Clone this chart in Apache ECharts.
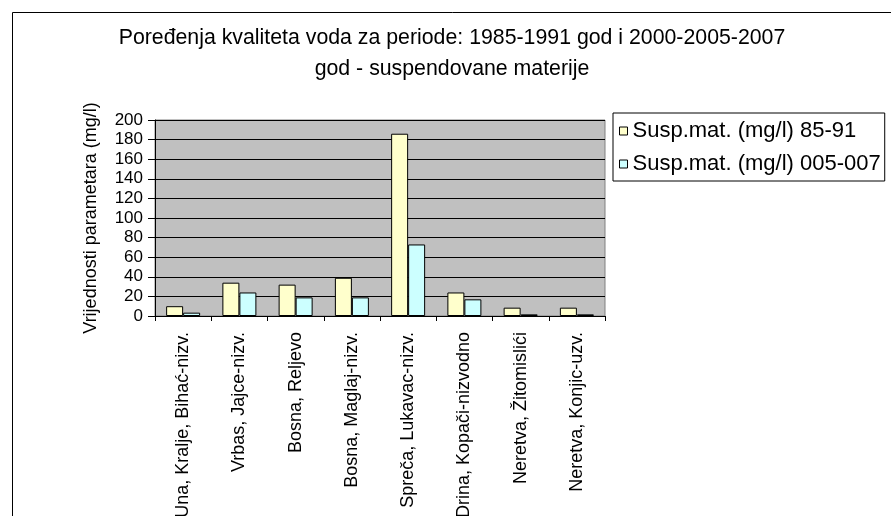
<!DOCTYPE html>
<html>
<head>
<meta charset="utf-8">
<script src="https://cdn.jsdelivr.net/npm/echarts@6/dist/echarts.min.js"></script>
<style>html,body{margin:0;padding:0;background:#fff}#c{width:891px;height:516px}</style>
</head>
<body>
<div id="c"></div>
<script>
const categories = ['Una, Kralje, Bihać-nizv.', 'Vrbas, Jajce-nizv.', 'Bosna, Reljevo', 'Bosna, Maglaj-nizv.', 'Spreča, Lukavac-nizv.', 'Drina, Kopači-nizvodno', 'Neretva, Žitomislići', 'Neretva, Konjic-uzv.'];
const series8591 = [10, 34, 32, 39, 186, 24, 8.5, 8.5];
const series005007 = [3.4, 24, 19, 19, 73, 17, 1.7, 1.7];
const yTicks = [0, 20, 40, 60, 80, 100, 120, 140, 160, 180, 200];
const seriesNames = ['Susp.mat. (mg/l) 85-91', 'Susp.mat. (mg/l) 005-007'];
const titleText = 'Poređenja kvaliteta voda za periode: 1985-1991 god i 2000-2005-2007\ngod - suspendovane materije';
const yName = 'Vrijednosti parametara (mg/l)';

const FONT = 'Liberation Sans, Arial, sans-serif';
const chart = echarts.init(document.getElementById('c'), null, {renderer: 'canvas'});
chart.setOption({
  animation: false,
  backgroundColor: '#fff',
  title: {
    text: titleText,
    left: 452, top: 23, textAlign: 'center', padding: 0,
    textStyle: {fontFamily: FONT, fontSize: 21.3, fontWeight: 'normal', color: '#000', lineHeight: 31}
  },
  legend: {
    orient: 'vertical',
    left: 613, top: 113, width: 277,
    padding: [7, 4, 6, 6],
    itemGap: 11,
    itemWidth: 8, itemHeight: 8,
    icon: 'rect',
    backgroundColor: '#fff',
    borderColor: '#000', borderWidth: 1,
    textStyle: {fontFamily: FONT, fontSize: 22, color: '#000', padding: [0, 0, 0, 0]},
    itemStyle: {borderColor: '#000', borderWidth: 1},
    data: seriesNames
  },
  grid: {
    left: 155, right: 286, top: 120, bottom: 200,
    containLabel: false, outerBoundsMode: 'none',
    show: true, backgroundColor: '#C0C0C0', borderColor: '#808080', borderWidth: 1
  },
  xAxis: {
    type: 'category',
    data: categories,
    axisLine: {lineStyle: {color: '#000', width: 1}},
    axisTick: {show: true, length: 5, lineStyle: {color: '#000'}},
    axisLabel: {rotate: 90, interval: 0, margin: 16, fontFamily: FONT, fontSize: 18, color: '#000'}
  },
  yAxis: {
    type: 'value',
    min: 0, max: 200, interval: 20,
    name: yName,
    nameLocation: 'middle',
    nameGap: 55,
    nameTextStyle: {fontFamily: FONT, fontSize: 18, color: '#000'},
    axisLine: {show: true, lineStyle: {color: '#000', width: 1}},
    axisTick: {show: true, length: 7, lineStyle: {color: '#000'}},
    axisLabel: {margin: 12, fontFamily: FONT, fontSize: 17, color: '#000',
      formatter: v => yTicks.includes(v) ? String(v) : ''},
    splitLine: {show: true, lineStyle: {color: '#000', width: 1}}
  },
  series: [
    {name: seriesNames[0], type: 'bar', data: series8591, barWidth: 17, barGap: '0%',
     itemStyle: {color: '#FFFFCC', borderColor: '#000', borderWidth: 1}},
    {name: seriesNames[1], type: 'bar', data: series005007, barWidth: 17, barGap: '0%',
     itemStyle: {color: '#CCFFFF', borderColor: '#000', borderWidth: 1}}
  ],
  graphic: [
    {type: 'rect', left: 10, top: 10, shape: {x: 0, y: 0, width: 900, height: 520}, silent: true,
     style: {fill: 'none', stroke: '#000', lineWidth: 1}}
  ]
});
</script>
</body>
</html>
